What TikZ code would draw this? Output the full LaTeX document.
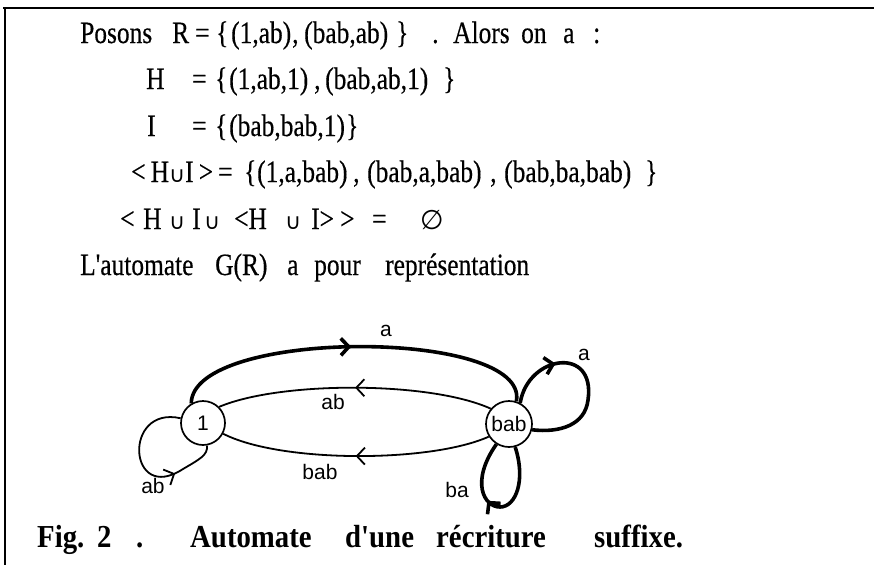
\documentclass[tikz,border=0pt]{standalone}
\usepackage{fontspec}
\setmainfont{Liberation Serif}
\newfontfamily\condf[FakeStretch=0.82,FakeBold=0.4]{Liberation Serif}
\newfontfamily\capf[FakeStretch=0.9]{Liberation Serif}
\newfontfamily\lblf{Liberation Sans}
\newfontfamily\symf{DejaVu Sans}
\usetikzlibrary{arrows.meta,decorations.markings}
\newcommand{\cupsym}{{\symf\fontsize{22}{22}\selectfont ∪}}
\tikzset{
  txt/.style={anchor=base west, inner sep=0pt, font=\condf\fontsize{31}{31}\selectfont},
  captxt/.style={anchor=base west, inner sep=0pt, font=\capf\bfseries\fontsize{32}{32}\selectfont},
  state/.style={circle, draw, line width=1.7pt, minimum size=44pt, inner sep=0pt, font=\lblf\fontsize{21}{21}\selectfont},
  lbl/.style={inner sep=0pt, font=\lblf\fontsize{21}{21}\selectfont},
  thinedge/.style={line width=1.8pt},
  thickedge/.style={line width=3.6pt},
  midarrow/.style={postaction={decorate}, decoration={markings, mark=at position #1 with {\arrow{Straight Barb[length=8pt,width=17pt]}}}},
}
\begin{document}
\begin{tikzpicture}[x=1pt,y=-1pt]
\useasboundingbox (0,0) rectangle (874,565);
% frame
\draw[line width=2.2pt] (3,8) -- (874,8);
\draw[line width=2.2pt] (5,8) -- (5,565);
% line 1
\node[txt] (p1) at (80,43) {Posons};
\node[txt] (p2) at (172,43) {R};
\node[txt] (p3) at (195,43) {=};
\node[txt] (p4) at (216,43) {\{};
\node[txt] (p5) at (231,43) {(1,ab)};
\node[txt] (p6) at (292,43) {,};
\node[txt] (p7) at (304,43) {(bab,ab)};
\node[txt] (p8) at (396,43) {\}};
\node[txt] (p9) at (432,43) {.};
\node[txt] (p10) at (453,43) {Alors};
\node[txt] (p11) at (521,43) {on};
\node[txt] (p12) at (563,43) {a};
\node[txt] (p13) at (593,43) {:};
% line 2
\node[txt] (h1) at (146,89) {H};
\node[txt] (h2) at (192,89) {=};
\node[txt] (h3) at (215,89) {\{};
\node[txt] (h4) at (229,89) {(1,ab,1)};
\node[txt] (h5) at (314,89) {,};
\node[txt] (h6) at (325,89) {(bab,ab,1)};
\node[txt] (h7) at (443,89) {\}};
% line 3
\node[txt] (i1) at (147,136) {I};
\node[txt] (i2) at (192,136) {=};
\node[txt] (i3) at (215,136) {\{};
\node[txt] (i4) at (229,136) {(bab,bab,1)};
\node[txt] (i5) at (346,136) {\}};
% line 4
\node[txt] (u1) at (131,182) {<\,H\cupsym I\,>};
\node[txt] (u2) at (218,182) {=};
\node[txt] (u3) at (244,182) {\{};
\node[txt] (u4) at (257,182) {(1,a,bab)};
\node[txt] (u5) at (353,182) {,};
\node[txt] (u6) at (367,182) {(bab,a,bab)};
\node[txt] (u7) at (490,182) {,};
\node[txt] (u8) at (504,182) {(bab,ba,bab)};
\node[txt] (u9) at (645,182) {\}};
% line 5
\node[txt] (v1) at (120,229) {<};
\node[txt] (v2) at (143,229) {H};
\node[txt] (v3) at (169,229) {\cupsym};
\node[txt] (v4) at (192,229) {I};
\node[txt] (v5) at (204,229) {\cupsym};
\node[txt] (v6) at (234,229) {<H};
\node[txt] (v7) at (285,229) {\cupsym};
\node[txt] (v8) at (311,229) {I>};
\node[txt] (v9) at (340,229) {>};
\node[txt] (v10) at (372,229) {=};
\node[txt] (v11) at (420,229) {{\symf\fontsize{27}{27}\selectfont ∅}};
% line 6
\node[txt] (w1) at (80,275) {L'automate};
\node[txt] (w2) at (215,275) {G(R)};
\node[txt] (w3) at (287,275) {a};
\node[txt] (w4) at (314,275) {pour};
\node[txt] (w5) at (385,275) {représentation};
% caption
\node[captxt] (c1) at (37,547) {Fig.};
\node[captxt] (c2) at (97,547) {2};
\node[captxt] (c3) at (136,547) {.};
\node[captxt] (c4) at (190,547) {Automate};
\node[captxt] (c5) at (345,547) {d'une};
\node[captxt] (c6) at (436,547) {récriture};
\node[captxt] (c7) at (594,547) {suffixe.};
% graph
\node[state] (n1) at (203,423) {1};
\node[state, minimum size=46pt] (nb) at (509,424) {bab};
\draw[thickedge, midarrow=0.49] (n1.121) .. controls (192,328) and (530,328) .. (nb.72);
\draw[thinedge, midarrow=0.5] (nb.140) .. controls (430,381) and (280,381) .. (n1.45);
\draw[thinedge, midarrow=0.5] (nb.212) .. controls (430,463) and (280,463) .. (n1.-28);
\draw[thinedge, midarrow=0.72] (n1.168) .. controls (122,405) and (128,505) .. (183,469) .. controls (200,459) and (208,455) .. (n1.-80);
\draw[thickedge, midarrow=0.3] (nb.62) .. controls (528,355) and (596,345) .. (588,400) .. controls (585,425) and (560,433) .. (nb.-14);
\draw[thickedge, midarrow=0.58] (nb.-75) .. controls (526,480) and (516,507) .. (500,507) .. controls (484,507) and (470,482) .. (nb.-122);
\node[lbl] (la) at (386,331) {a};
\node[lbl] (lab) at (333,402) {ab};
\node[lbl] (lbab) at (320,472) {bab};
\node[lbl] (lba) at (457,490) {ba};
\node[lbl] (lab2) at (153,486) {ab};
\node[lbl] (la2) at (584,355) {a};
\end{tikzpicture}
\end{document}
